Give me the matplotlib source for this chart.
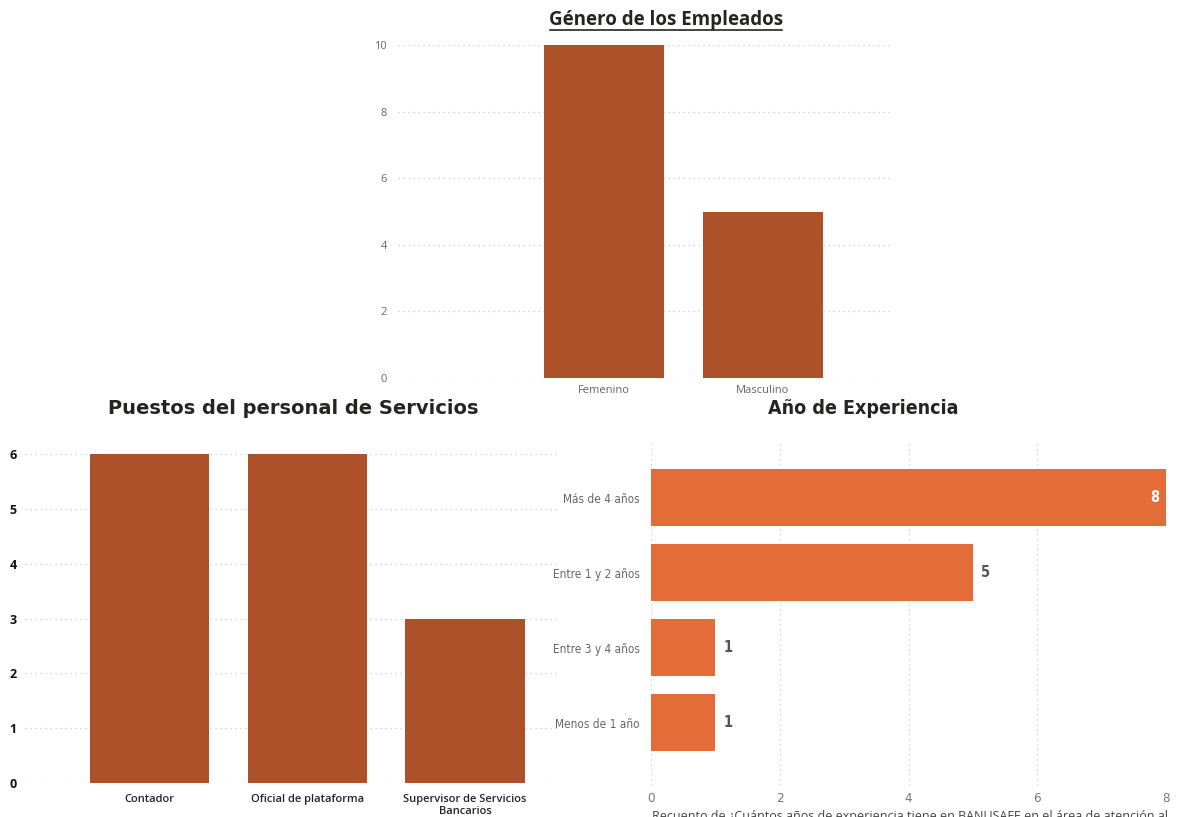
import matplotlib
matplotlib.use("Agg")
import matplotlib.pyplot as plt

# datos
genero = ["Femenino", "Masculino"]
genero_n = [10, 5]

puestos = ["Contador", "Oficial de plataforma", "Supervisor de Servicios\nBancarios"]
puestos_n = [6, 6, 3]

experiencia = ["Más de 4 años", "Entre 1 y 2 años", "Entre 3 y 4 años", "Menos de 1 año"]
experiencia_n = [8, 5, 1, 1]

W, H = 1182, 817
color1 = "#AC5129"
color2 = "#E46C38"
grid_kw = dict(color="#c8c8c8", linestyle=(0, (1, 3)), linewidth=0.9)


def caja(l, t, r, b):
    return [l / W, 1 - b / H, (r - l) / W, (b - t) / H]


def limpiar(ax):
    for s in ax.spines.values():
        s.set_visible(False)
    ax.tick_params(length=0)
    ax.set_axisbelow(True)


fig = plt.figure(figsize=(W / 100, H / 100), dpi=100)

# genero de los empleados
ax1 = fig.add_axes(caja(398, 45, 890, 378))
limpiar(ax1)
ax1.bar(range(len(genero)), genero_n, width=0.755, color=color1)
ax1.set_xlim(-1.296, 1.80)
ax1.set_ylim(0, 10)
ax1.set_yticks([0, 2, 4, 6, 8, 10])
ax1.set_xticks(range(len(genero)))
ax1.set_xticklabels(genero, family="Open Sans", fontsize=8, color="#666666")
for lab in ax1.get_yticklabels():
    lab.set_family("Open Sans")
    lab.set_fontsize(8)
    lab.set_color("#666666")
ax1.tick_params(axis="x", pad=5)
ax1.tick_params(axis="y", pad=8)
ax1.yaxis.grid(True, **grid_kw)
fig.text(666 / W, 1 - 20 / H, "Género de los Empleados", ha="center", va="center",
         family="Open Sans", fontweight="bold", fontsize=13.5, color="#252423")
fig.add_artist(plt.Line2D([550 / W, 782 / W], [1 - 30 / H, 1 - 30 / H], color="#252423", lw=1.2))

# puestos del personal
ax2 = fig.add_axes(caja(25, 454, 558, 783))
limpiar(ax2)
ax2.bar(range(len(puestos)), puestos_n, width=0.756, color=color1)
ax2.set_xlim(-0.79, 2.59)
ax2.set_ylim(0, 6)
ax2.set_yticks(range(0, 7))
ax2.set_xticks(range(len(puestos)))
ax2.set_xticklabels(puestos, family="Open Sans", fontweight="semibold", fontsize=8,
                    color="#252423", linespacing=1.05)
for lab in ax2.get_yticklabels():
    lab.set_family("Open Sans")
    lab.set_fontweight("bold")
    lab.set_fontsize(9)
    lab.set_color("#111111")
ax2.tick_params(axis="x", pad=8)
ax2.tick_params(axis="y", pad=6)
ax2.yaxis.grid(True, **grid_kw)
fig.text(293 / W, 1 - 409 / H, "Puestos del personal de Servicios", ha="center", va="center",
         family="DejaVu Sans", fontweight="heavy", fontsize=14, color="#252423")

# anos de experiencia
angosta = dict(family="DejaVu Sans", fontstretch="condensed")
ax3 = fig.add_axes(caja(651, 443, 1166, 785))
limpiar(ax3)
pos = range(len(experiencia))
ax3.barh(pos, experiencia_n, height=0.76, color=color2)
ax3.set_xlim(0, 8)
ax3.set_ylim(3.83, -0.727)
ax3.set_xticks([0, 2, 4, 6, 8])
ax3.set_yticks(pos)
ax3.set_yticklabels(experiencia, fontsize=8.5, color="#666666", **angosta)
for lab in ax3.get_xticklabels():
    lab.set_family("DejaVu Sans")
    lab.set_fontstretch("condensed")
    lab.set_fontsize(9.5)
    lab.set_color("#777777")
ax3.tick_params(axis="x", pad=5)
ax3.tick_params(axis="y", pad=8)
ax3.xaxis.grid(True, **grid_kw)
for i, v in enumerate(experiencia_n):
    if v >= 8:
        ax3.text(v - 0.1, i, str(v), ha="right", va="center", color="white",
                 fontsize=10.5, fontweight="bold", **angosta)
    else:
        ax3.text(v + 0.12, i, str(v), ha="left", va="center", color="#555555",
                 fontsize=10.5, fontweight="bold", **angosta)
fig.text(863 / W, 1 - 408 / H, "Año de Experiencia", ha="center", va="center",
         fontweight="bold", fontsize=14, color="#252423", **angosta)
fig.text(652 / W, 1 - 810 / H,
         "Recuento de ¿Cuántos años de experiencia tiene en BANUSAFE en el área de atención al",
         ha="left", va="top", family="Open Sans", fontsize=9, color="#444444")

fig.savefig("out.png", dpi=100, facecolor="white")
